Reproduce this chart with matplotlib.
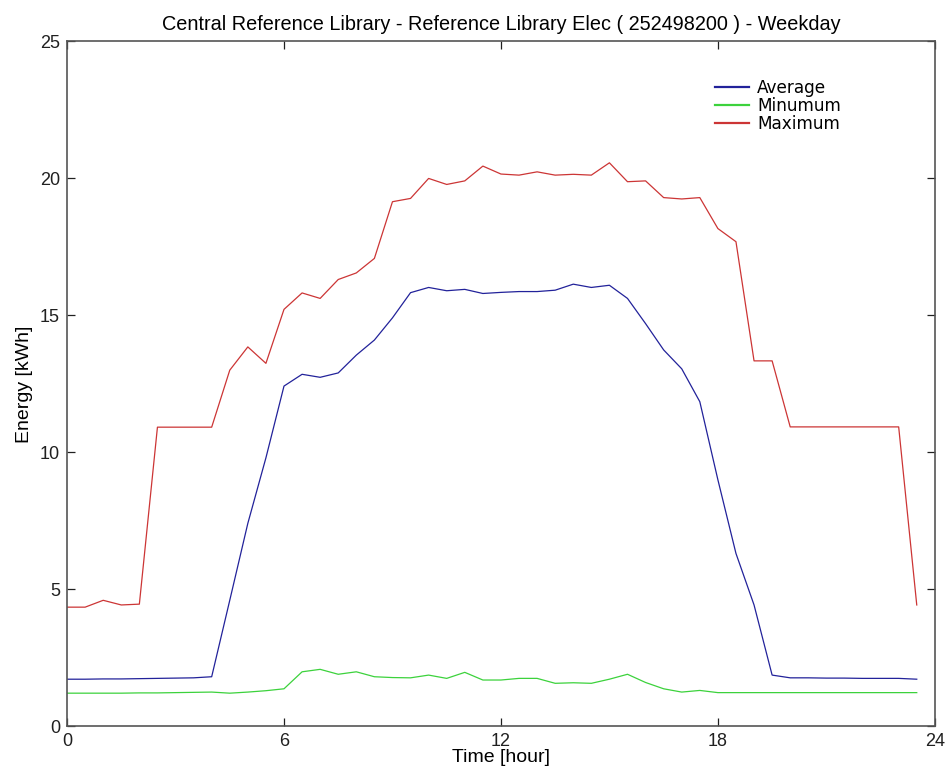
import numpy as np
import matplotlib
matplotlib.use("Agg")
import matplotlib.pyplot as plt

# half-hourly weekday profile, 0:00 .. 23:30
hours = np.arange(48) * 0.5

average = [1.72, 1.72, 1.73, 1.73, 1.74, 1.75, 1.76, 1.77, 1.81, 4.6,
           7.41, 9.8, 12.42, 12.85, 12.74, 12.9, 13.55, 14.1, 14.91, 15.83,
           16.02, 15.9, 15.95, 15.8, 15.84, 15.87, 15.87, 15.92, 16.14, 16.02,
           16.1, 15.62, 14.7, 13.74, 13.05, 11.85, 9.0, 6.31, 4.43, 1.87,
           1.77, 1.77, 1.76, 1.76, 1.75, 1.75, 1.75, 1.72]
minimum = [1.21, 1.21, 1.21, 1.21, 1.22, 1.22, 1.23, 1.24, 1.25, 1.21,
           1.25, 1.3, 1.37, 1.99, 2.08, 1.9, 1.99, 1.81, 1.78, 1.77,
           1.87, 1.75, 1.97, 1.69, 1.69, 1.75, 1.75, 1.57, 1.59, 1.57,
           1.72, 1.9, 1.6, 1.37, 1.25, 1.31, 1.23, 1.23, 1.23, 1.23,
           1.23, 1.23, 1.23, 1.23, 1.23, 1.23, 1.23, 1.23]
maximum = [4.35, 4.35, 4.6, 4.43, 4.46, 10.92, 10.92, 10.92, 10.92, 13.0,
           13.85, 13.25, 15.22, 15.82, 15.62, 16.31, 16.55, 17.08, 19.15, 19.27,
           20.0, 19.78, 19.91, 20.45, 20.16, 20.12, 20.24, 20.12, 20.15, 20.12,
           20.57, 19.88, 19.91, 19.3, 19.25, 19.3, 18.17, 17.69, 13.34, 13.34,
           10.93, 10.93, 10.93, 10.93, 10.93, 10.93, 10.93, 4.43]

xticks = [0, 6, 12, 18, 24]
yticks = [0, 5, 10, 15, 20, 25]

sans = ["Liberation Sans", "DejaVu Sans"]

fig = plt.figure(figsize=(9.51, 7.82), dpi=100)
ax = fig.add_axes([0.0705, 0.0712, 0.9125, 0.8758])

ax.plot(hours, average, color="#22229a", lw=0.9, label="Average")
ax.plot(hours, minimum, color="#3cd23c", lw=0.9, label="Minumum")
ax.plot(hours, maximum, color="#cc3535", lw=0.9, label="Maximum")

ax.set_xlim(0, 24)
ax.set_ylim(0, 25)
ax.set_xticks(xticks)
ax.set_yticks(yticks)
ax.tick_params(direction="in", top=True, right=True, length=6, width=0.9,
               colors="#202020", labelsize=13, pad=5)
for lab in ax.get_xticklabels() + ax.get_yticklabels():
    lab.set_family(sans)
for sp in ax.spines.values():
    sp.set_color("#555555")
    sp.set_linewidth(1.2)

ax.set_title("Central Reference Library - Reference Library Elec ( 252498200 ) - Weekday",
             family=sans, fontsize=14.3, pad=8)
ax.set_xlabel("Time [hour]", family=sans, fontsize=14, labelpad=-1)
ax.set_ylabel("Energy [kWh]", family=sans, fontsize=14, labelpad=5)

leg = ax.legend(loc="upper left", bbox_to_anchor=(0.729, 0.968), frameon=False,
                prop={"family": "DejaVu Sans", "size": 12.2}, handlelength=2.0,
                handletextpad=0.5, labelspacing=0.02)
for h in leg.get_lines():
    h.set_linewidth(1.6)

fig.savefig("out.png", dpi=100)
